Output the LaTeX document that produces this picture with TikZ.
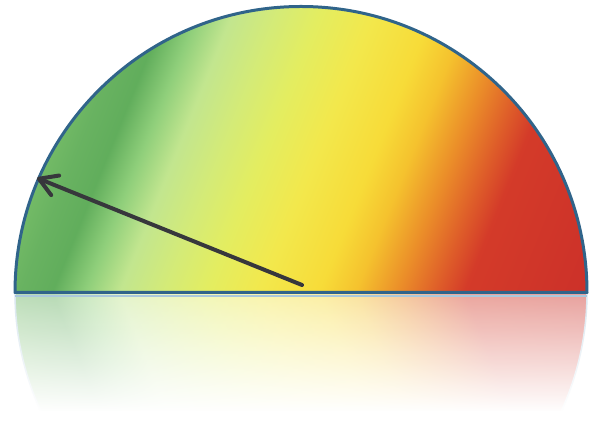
\documentclass[tikz,border=0pt]{standalone}
\usepackage{xcolor}
\usetikzlibrary{arrows.meta, fadings}

% colour bands of the gauge, left (green) to right (red)
\pgfdeclarehorizontalshading{gaugebands}{100bp}{%
  rgb(0bp)=(0.45,0.73,0.40);
  rgb(35.5bp)=(0.45,0.73,0.40);
  rgb(37.0bp)=(0.41,0.70,0.38);
  rgb(38.9bp)=(0.38,0.68,0.36);
  rgb(40.8bp)=(0.56,0.81,0.48);
  rgb(42.8bp)=(0.76,0.90,0.56);
  rgb(45.3bp)=(0.83,0.92,0.47);
  rgb(47.8bp)=(0.89,0.93,0.38);
  rgb(50.9bp)=(0.95,0.91,0.30);
  rgb(54.4bp)=(0.97,0.86,0.22);
  rgb(56.5bp)=(0.96,0.76,0.18);
  rgb(59.0bp)=(0.92,0.55,0.16);
  rgb(61.2bp)=(0.87,0.36,0.16);
  rgb(62.8bp)=(0.83,0.23,0.16);
  rgb(70bp)=(0.80,0.19,0.16);
  rgb(100bp)=(0.80,0.19,0.16)}

\tikzfading[name=reflfade, top color=transparent!45, bottom color=transparent!0]

\definecolor{rimblue}{RGB}{48,100,138}
\definecolor{rimlight}{RGB}{170,200,220}
\definecolor{needlegray}{RGB}{55,55,60}

\begin{document}
\begin{tikzpicture}[
    x=0.02cm, y=0.02cm,
    rim/.style={rimblue, line width=0.06cm, line join=round},
    needle/.style={needlegray, line width=0.08cm, line cap=round,
      -{Straight Barb[length=10pt, width=12pt, round]}},
]
\useasboundingbox (0,0) rectangle (596,432);
\fill[white] (0,0) rectangle (596,432);
\coordinate (ctr) at (301,139.5);
% reflection below the base line
\begin{scope}
\clip (15,139.5) arc[start angle=180, end angle=360, radius=286] -- cycle;
\shade[shading=gaugebands, shading angle=22] (-99,-403) rectangle (701,397);
\end{scope}
\draw[rimlight, line width=0.03cm] (15,139.5) arc[start angle=180, end angle=360, radius=286];
% wash the reflection out towards the bottom
\fill[white, path fading=reflfade] (0,138) rectangle (596,20);
\fill[white] (0,0) rectangle (596,20.5);
% the gauge itself
\begin{scope}
\clip (15,139.5) arc[start angle=180, end angle=0, radius=286] -- cycle;
\shade[shading=gaugebands, shading angle=-22] (-99,-118) rectangle (701,682);
\end{scope}
\draw[rimlight, line width=0.035cm] (15,136) -- (587,136);
\draw[rim] (15,139.5) arc[start angle=180, end angle=0, radius=286] -- cycle;
% pointer
\coordinate (pivot) at (302,147);
\coordinate (tip) at (37,254);
\draw[needle] (pivot) -- (tip);
\end{tikzpicture}
\end{document}
